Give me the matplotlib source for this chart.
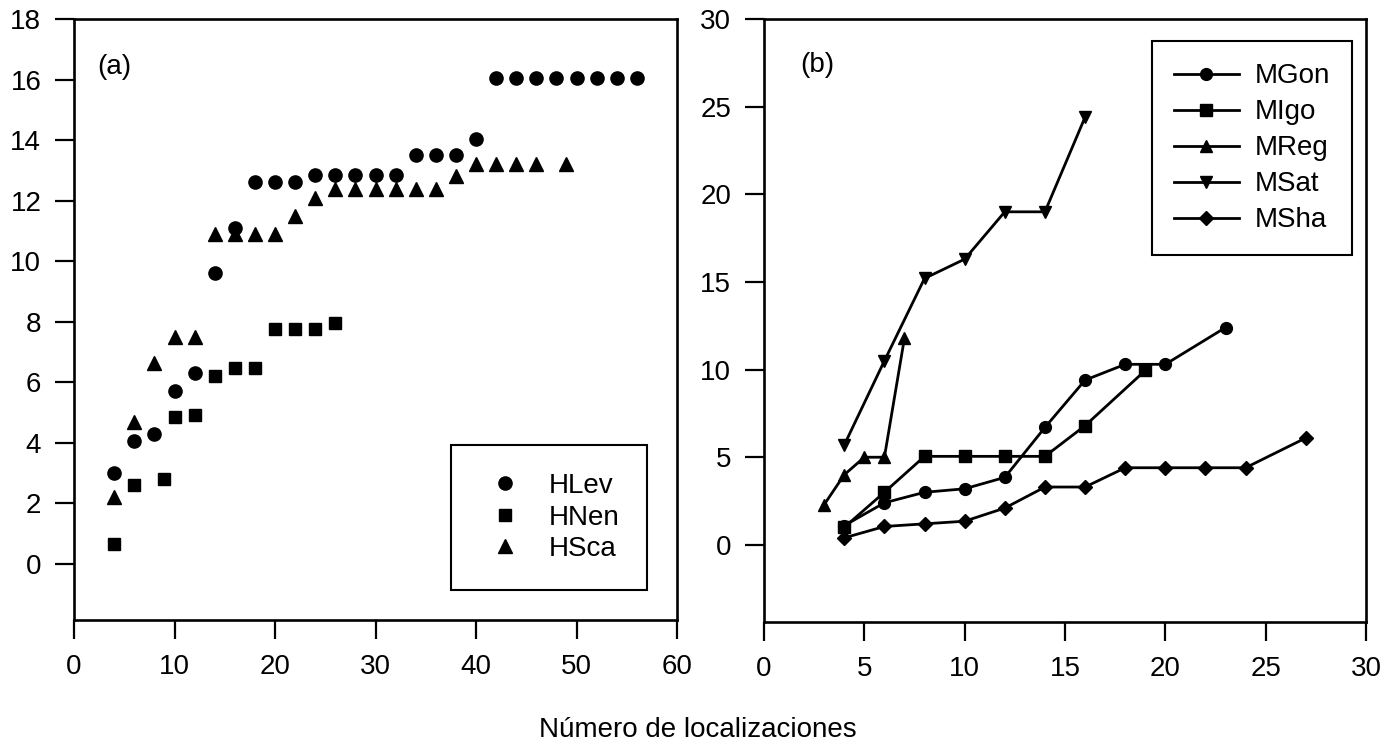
import matplotlib.pyplot as plt

plt.rcParams['font.family'] = ['Liberation Sans', 'DejaVu Sans']

# Panel (a) data
hlev_x = [4, 6, 8, 10, 12, 14, 16, 18, 20, 22, 24, 26, 28, 30, 32, 34, 36, 38, 40,
          42, 44, 46, 48, 50, 52, 54, 56]
hlev_y = [3.0, 4.05, 4.3, 5.7, 6.3, 9.6, 11.1, 12.6, 12.6, 12.6, 12.85, 12.85, 12.85,
          12.85, 12.85, 13.5, 13.5, 13.5, 14.05, 16.05, 16.05, 16.05, 16.05, 16.05,
          16.05, 16.05, 16.05]
hnen_x = [4, 6, 9, 10, 12, 14, 16, 18, 20, 22, 24, 26]
hnen_y = [0.65, 2.6, 2.8, 4.85, 4.92, 6.2, 6.48, 6.48, 7.75, 7.75, 7.75, 7.97]
hsca_x = [4, 6, 8, 10, 12, 14, 16, 18, 20, 22, 24, 26, 28, 30, 32, 34, 36, 38, 40,
          42, 44, 46, 49]
hsca_y = [2.2, 4.7, 6.65, 7.5, 7.5, 10.9, 10.9, 10.9, 10.9, 11.5, 12.1, 12.4, 12.4,
          12.4, 12.4, 12.4, 12.4, 12.8, 13.2, 13.2, 13.2, 13.2, 13.2]

# Panel (b) data
mgon_x = [4, 6, 8, 10, 12, 14, 16, 18, 20, 23]
mgon_y = [1.1, 2.4, 3.0, 3.2, 3.85, 6.7, 9.4, 10.3, 10.3, 12.4]
migo_x = [4, 6, 8, 10, 12, 14, 16, 19]
migo_y = [1.0, 3.0, 5.05, 5.05, 5.05, 5.05, 6.8, 9.95]
mreg_x = [3, 4, 5, 6, 7]
mreg_y = [2.3, 4.0, 5.0, 5.0, 11.8]
msat_x = [4, 6, 8, 10, 12, 14, 16]
msat_y = [5.7, 10.5, 15.2, 16.3, 19.0, 19.0, 24.4]
msha_x = [4, 6, 8, 10, 12, 14, 16, 18, 20, 22, 24, 27]
msha_y = [0.4, 1.05, 1.2, 1.35, 2.1, 3.3, 3.3, 4.4, 4.4, 4.4, 4.4, 6.1]

fs = 20
W, H = 1396, 748
fig = plt.figure(figsize=(W / 100, H / 100), dpi=100)

ax1 = fig.add_axes([74 / W, 1 - 620 / H, 603 / W, 601 / H])
ax2 = fig.add_axes([764 / W, 1 - 622 / H, 602 / W, 603 / H])

for ax in (ax1, ax2):
    for s in ax.spines.values():
        s.set_linewidth(1.9)
    ax.tick_params(direction='out', length=13.5, width=1.6, labelsize=fs,
                   top=False, right=False)
    ax.tick_params(axis='x', pad=11)
    ax.tick_params(axis='y', pad=10)

# (a) scatter
ax1.plot(hlev_x, hlev_y, 'o', color='black', markersize=9.5, label='HLev')
ax1.plot(hnen_x, hnen_y, 's', color='black', markersize=8.5, label='HNen')
ax1.plot(hsca_x, hsca_y, '^', color='black', markersize=9.5, label='HSca')
ax1.set_xlim(0, 60)
ax1.set_ylim(-1.85, 18)
ax1.set_xticks(range(0, 61, 10))
ax1.set_yticks(range(0, 19, 2))
ax1.text(0.038, 0.92, '(a)', transform=ax1.transAxes, fontsize=fs, va='center')
leg1 = ax1.legend(loc='lower right', bbox_to_anchor=(0.95, 0.05), fontsize=fs,
                  numpoints=1, fancybox=False, edgecolor='black', framealpha=1,
                  borderpad=1.0, handlelength=1.9, handletextpad=0.6,
                  labelspacing=0.2, borderaxespad=0)
leg1.get_frame().set_linewidth(1.5)

# (b) lines
lkw = dict(color='black', linewidth=2.0, markersize=8.5)
ax2.plot(mgon_x, mgon_y, marker='o', label='MGon', **lkw)
ax2.plot(migo_x, migo_y, marker='s', label='MIgo', **lkw)
ax2.plot(mreg_x, mreg_y, marker='^', label='MReg', **lkw)
ax2.plot(msat_x, msat_y, marker='v', label='MSat', **lkw)
ax2.plot(msha_x, msha_y, marker='D', label='MSha', **dict(lkw, markersize=7.5))
ax2.set_xlim(0, 30)
ax2.set_ylim(-4.4, 30)
ax2.set_xticks(range(0, 31, 5))
ax2.set_yticks(range(0, 31, 5))
ax2.text(0.06, 0.924, '(b)', transform=ax2.transAxes, fontsize=fs, va='center')
leg2 = ax2.legend(loc='upper right', bbox_to_anchor=(0.977, 0.9635), fontsize=fs,
                  fancybox=False, edgecolor='black', framealpha=1,
                  borderpad=0.8, handlelength=2.35, handletextpad=0.56,
                  labelspacing=0.36, borderaxespad=0)
leg2.get_frame().set_linewidth(1.5)

fig.text(0.5, 1 - 737 / H, 'Número de localizaciones', ha='center', va='baseline',
         fontsize=fs)

fig.savefig('out.png', dpi=100)
